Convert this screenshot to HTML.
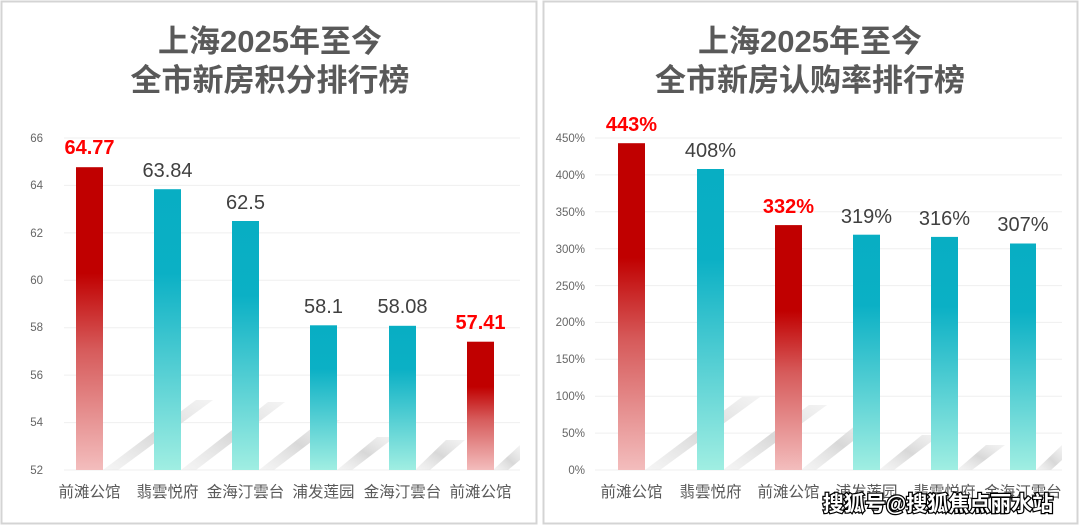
<!DOCTYPE html>
<html><head><meta charset="utf-8"><style>
html,body{margin:0;padding:0;background:#fff;}
svg{display:block;}
</style></head><body>
<svg width="1080" height="527" viewBox="0 0 1080 527" xmlns="http://www.w3.org/2000/svg" font-family="'Liberation Sans','Noto Sans CJK SC',sans-serif">
<defs>
<linearGradient id="red" x1="0" y1="0" x2="0" y2="1">
<stop offset="0" stop-color="#C00000"/><stop offset="0.35" stop-color="#C00000"/><stop offset="0.6" stop-color="#D65A5A"/><stop offset="1" stop-color="#F3BDBD"/></linearGradient>
<linearGradient id="teal" x1="0" y1="0" x2="0" y2="1">
<stop offset="0" stop-color="#08AEC3"/><stop offset="0.3" stop-color="#0BB0C5"/><stop offset="1" stop-color="#A0EEE2"/></linearGradient>
<linearGradient id="sh" x1="0" y1="1" x2="1" y2="0">
<stop offset="0" stop-color="#e6e6e6" stop-opacity="0.4"/><stop offset="0.5" stop-color="#d8d8d8"/><stop offset="1" stop-color="#e8e8e8" stop-opacity="0.5"/></linearGradient>
</defs>
<rect x="1.5" y="1.5" width="535" height="522" fill="#fff" stroke="#d4d4d4" stroke-width="2"/>
<rect x="543.5" y="1.5" width="534" height="522" fill="#fff" stroke="#d4d4d4" stroke-width="2"/>
<g fill="#595959" font-weight="bold" font-size="31" text-anchor="middle">
<text x="270" y="52">上海2025年至今</text><text x="270" y="91">全市新房积分排行榜</text>
<text x="810" y="52">上海2025年至今</text><text x="810" y="91">全市新房认购率排行榜</text>
</g>
<g stroke="#efefef" stroke-width="1">
<line x1="64" x2="520" y1="138" y2="138"/><line x1="64" x2="520" y1="185.4" y2="185.4"/><line x1="64" x2="520" y1="232.9" y2="232.9"/><line x1="64" x2="520" y1="280.3" y2="280.3"/><line x1="64" x2="520" y1="327.7" y2="327.7"/><line x1="64" x2="520" y1="375.1" y2="375.1"/><line x1="64" x2="520" y1="422.6" y2="422.6"/><line x1="64" x2="520" y1="470" y2="470"/>
</g>
<g fill="#666" font-size="11.5" text-anchor="end">
<text x="43" y="142">66</text><text x="43" y="189">64</text><text x="43" y="237">62</text><text x="43" y="284">60</text><text x="43" y="331">58</text><text x="43" y="379">56</text><text x="43" y="426">54</text><text x="43" y="474">52</text>
</g>
<g fill="url(#sh)">
<polygon points="103,470 118,470 213,400 196,400"/>
<polygon points="181,470 196,470 285,402 268,402"/>
<polygon points="259,470 274,470 340,420 322,420"/>
<polygon points="337,470 352,470 395,437 377,437"/>
<polygon points="415,470 430,470 465,440 446,440"/>
<polygon points="493,470 508,470 520,460 520,445"/>
</g>
<g>
<rect x="76" y="167.2" width="27" height="302.8" fill="url(#red)"/>
<rect x="154" y="189.2" width="27" height="280.8" fill="url(#teal)"/>
<rect x="232" y="221" width="27" height="249" fill="url(#teal)"/>
<rect x="310" y="325.3" width="27" height="144.7" fill="url(#teal)"/>
<rect x="389" y="325.8" width="27" height="144.2" fill="url(#teal)"/>
<rect x="467" y="341.7" width="27" height="128.3" fill="url(#red)"/>
</g>
<g font-size="20" text-anchor="middle" fill="#404040">
<text x="89.5" y="154" fill="#FF0000" font-weight="bold">64.77</text>
<text x="167.5" y="177">63.84</text>
<text x="245.5" y="209">62.5</text>
<text x="323.5" y="313">58.1</text>
<text x="402.5" y="313">58.08</text>
<text x="480.5" y="329" fill="#FF0000" font-weight="bold">57.41</text>
</g>
<g font-size="15.5" text-anchor="middle" fill="#595959">
<text x="89.5" y="497">前滩公馆</text><text x="167.5" y="497">翡雲悦府</text><text x="245.5" y="497">金海汀雲台</text><text x="323.5" y="497">浦发莲园</text><text x="402.5" y="497">金海汀雲台</text><text x="480.5" y="497">前滩公馆</text>
</g>
<g stroke="#efefef" stroke-width="1">
<line x1="595" x2="1062" y1="138" y2="138"/><line x1="595" x2="1062" y1="174.9" y2="174.9"/><line x1="595" x2="1062" y1="211.8" y2="211.8"/><line x1="595" x2="1062" y1="248.7" y2="248.7"/><line x1="595" x2="1062" y1="285.6" y2="285.6"/><line x1="595" x2="1062" y1="322.4" y2="322.4"/><line x1="595" x2="1062" y1="359.3" y2="359.3"/><line x1="595" x2="1062" y1="396.2" y2="396.2"/><line x1="595" x2="1062" y1="433.1" y2="433.1"/><line x1="595" x2="1062" y1="470" y2="470"/>
</g>
<g fill="#666" font-size="11.5" text-anchor="end">
<text x="585" y="142">450%</text><text x="585" y="179">400%</text><text x="585" y="216">350%</text><text x="585" y="253">300%</text><text x="585" y="290">250%</text><text x="585" y="326">200%</text><text x="585" y="363">150%</text><text x="585" y="400">100%</text><text x="585" y="437">50%</text><text x="585" y="474">0%</text>
</g>
<g fill="url(#sh)">
<polygon points="645,470 660,470 760,397 742,397"/>
<polygon points="723,470 738,470 827,405 809,405"/>
<polygon points="801,470 816,470 880,420 862,420"/>
<polygon points="879,470 894,470 940,435 922,435"/>
<polygon points="957,470 972,470 1005,445 986,445"/>
<polygon points="1036,470 1051,470 1062,460 1062,445"/>
</g>
<g>
<rect x="618" y="143.2" width="27" height="326.8" fill="url(#red)"/>
<rect x="697" y="169" width="27" height="301" fill="url(#teal)"/>
<rect x="775" y="225.1" width="27" height="244.9" fill="url(#red)"/>
<rect x="853" y="234.7" width="27" height="235.3" fill="url(#teal)"/>
<rect x="931" y="236.9" width="27" height="233.1" fill="url(#teal)"/>
<rect x="1010" y="243.5" width="26" height="226.5" fill="url(#teal)"/>
</g>
<g font-size="20" text-anchor="middle" fill="#404040">
<text x="631.5" y="131" fill="#FF0000" font-weight="bold">443%</text>
<text x="710.5" y="157">408%</text>
<text x="788.5" y="213" fill="#FF0000" font-weight="bold">332%</text>
<text x="866.5" y="223">319%</text>
<text x="944.5" y="225">316%</text>
<text x="1023" y="231">307%</text>
</g>
<g font-size="15.5" text-anchor="middle" fill="#595959">
<text x="631.5" y="497">前滩公馆</text><text x="710.5" y="497">翡雲悦府</text><text x="788.5" y="497">前滩公馆</text><text x="866.5" y="497">浦发莲园</text><text x="944.5" y="497">翡雲悦府</text><text x="1023" y="497">金海汀雲台</text>
</g>
<text x="938" y="511" text-anchor="middle" font-size="21" font-weight="bold" fill="#fff" stroke="#000" stroke-width="2.5" paint-order="stroke">搜狐号@搜狐焦点丽水站</text>
</svg>
</body></html>
